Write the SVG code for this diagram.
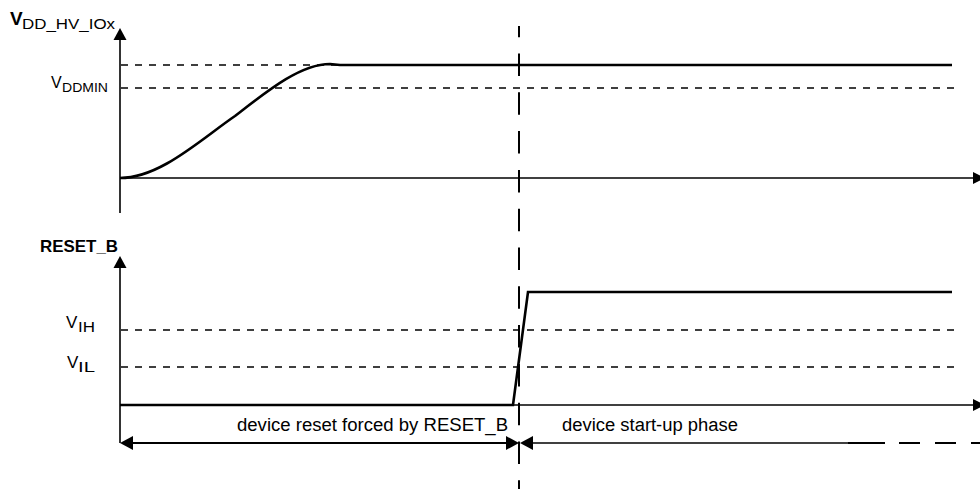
<svg xmlns="http://www.w3.org/2000/svg" width="980" height="489" viewBox="0 0 980 489">
<style>
text{font-family:"Liberation Sans",Arial,sans-serif;fill:#000}
.sig{fill:none;stroke:#000;stroke-width:2.6;stroke-linejoin:miter}
.ax{fill:none;stroke:#000;stroke-width:1.6}
.th{fill:none;stroke:#000;stroke-width:1.3;stroke-dasharray:7 7}
.vd{fill:none;stroke:#000;stroke-width:2;stroke-dasharray:22.5 16.3;stroke-dashoffset:11.3}
.ah{fill:#000}
</style>
<rect width="980" height="489" fill="#fff"/>
<g id="labels">
<text x="10" y="25" font-size="19" font-weight="bold">V</text>
<text x="22" y="29" font-size="15" textLength="93" lengthAdjust="spacingAndGlyphs">DD_HV_IOx</text>
<text x="51" y="88" font-size="16">V</text>
<text x="62" y="92" font-size="13.5" textLength="46" lengthAdjust="spacingAndGlyphs">DDMIN</text>
<text x="40" y="252" font-size="16.5" font-weight="bold" textLength="78" lengthAdjust="spacingAndGlyphs">RESET_B</text>
<text x="66" y="328" font-size="17">V</text>
<text x="78" y="332" font-size="14" textLength="17" lengthAdjust="spacingAndGlyphs">IH</text>
<text x="67" y="368" font-size="17">V</text>
<text x="78" y="372" font-size="14" textLength="17" lengthAdjust="spacingAndGlyphs">IL</text>
<text x="508" y="431" font-size="18" text-anchor="end" textLength="271" lengthAdjust="spacingAndGlyphs">device reset forced by RESET_B</text>
<text x="562" y="431" font-size="18" textLength="176" lengthAdjust="spacingAndGlyphs">device start-up phase</text>
</g>
<g id="connectors">
<line class="th" x1="121" y1="65" x2="340" y2="65"/>
<line class="th" x1="121" y1="88" x2="960" y2="88"/>
<line class="th" x1="121" y1="330" x2="960" y2="330"/>
<line class="th" x1="121" y1="367" x2="960" y2="367"/>
<line class="ax" x1="120" y1="38" x2="120" y2="213" stroke-width="1.8"/>
<polygon class="ah" points="120,28 113.5,40 126.5,40"/>
<line class="ax" x1="120" y1="178" x2="974" y2="178"/>
<polygon class="ah" points="985,178 973,172 973,184"/>
<line class="ax" x1="120" y1="266" x2="120" y2="443" stroke-width="2"/>
<polygon class="ah" points="120,256 113.5,268 126.5,268"/>
<line class="ax" x1="120" y1="405" x2="974" y2="405" stroke-width="1.3"/>
<polygon class="ah" points="985,405 973,399 973,411"/>
<path class="sig" d="M120,178 C160,178 200,140 235,116 C266,92 300,64 330,64 L340,65 L952,65"/>
<path class="sig" d="M120,405 L513,405 L528,292 L952,292"/>
<line class="vd" x1="519" y1="26" x2="519" y2="489"/>
<line x1="130" y1="443" x2="509" y2="443" stroke="#000" stroke-width="2"/>
<polygon class="ah" points="120,443 133,436 133,450"/>
<polygon class="ah" points="519,443 506,436 506,450"/>
<polygon class="ah" points="520,443 533,436 533,450"/>
<line x1="530" y1="443" x2="848" y2="443" stroke="#000" stroke-width="1.3"/>
<line x1="848" y1="443" x2="980" y2="443" stroke="#000" stroke-width="2.2" stroke-dasharray="37 14 21 15 21 15 21 15"/>
</g>
</svg>
